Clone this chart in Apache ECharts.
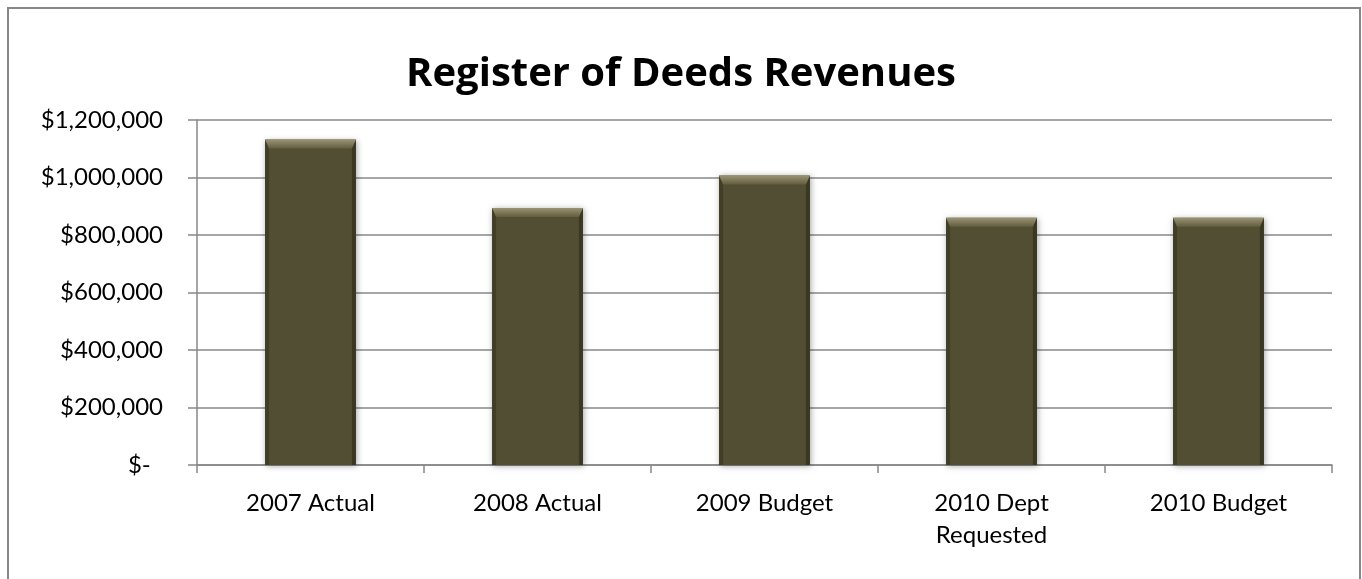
<!DOCTYPE html>
<html>
<head>
<meta charset="utf-8">
<script src="https://cdn.jsdelivr.net/npm/echarts@6/dist/echarts.min.js"></script>
<style>
html,body{margin:0;padding:0;background:#fff;}
#chart{width:1362px;height:579px;}
</style>
</head>
<body>
<div id="chart"></div>
<script>
const titleText = 'Register of Deeds Revenues';
const categories = ['2007 Actual', '2008 Actual', '2009 Budget', '2010 Dept\nRequested', '2010 Budget'];
const revenues = [1132000, 894000, 1007000, 860000, 860000];
const yMin = 0, yMax = 1200000, yStep = 200000;

const seriesData = revenues.map((v, i) => [i, v]);

function renderBevelBar(params, api) {
  const idx = api.value(0);
  const val = api.value(1);
  const top = api.coord([idx, val]);
  const base = api.coord([idx, 0]);
  const w = api.size([1, 0])[0] * 0.4;
  const x0 = top[0] - w / 2, x1 = top[0] + w / 2;
  const y0 = top[1], y1 = base[1];
  const b = 9;   // bevel depth
  const s = 4;   // side bevel width
  return {
    type: 'group',
    children: [
      { type: 'rect', shape: { x: x0, y: y0, width: w, height: y1 - y0 },
        style: { fill: '#524e33', shadowBlur: 6, shadowColor: 'rgba(0,0,0,0.35)', shadowOffsetX: 1, shadowOffsetY: 1 } },
      { type: 'polygon', shape: { points: [[x0, y0], [x0 + s, y0 + b], [x0 + s, y1], [x0, y1]] },
        style: { fill: '#413e28' } },
      { type: 'polygon', shape: { points: [[x1, y0], [x1 - s, y0 + b], [x1 - s, y1], [x1, y1]] },
        style: { fill: '#3a3723' } },
      { type: 'polygon', shape: { points: [[x0, y0], [x1, y0], [x1 - s, y0 + b], [x0 + s, y0 + b]] },
        style: { fill: { type: 'linear', x: 0, y: 0, x2: 0, y2: 1,
          colorStops: [{ offset: 0, color: '#9a9474' }, { offset: 1, color: '#625d40' }] } } }
    ]
  };
}

const chart = echarts.init(document.getElementById('chart'));
chart.setOption({
  backgroundColor: '#ffffff',
  animation: false,
  graphic: [{
    type: 'rect', z: -10, silent: true,
    shape: { x: 8, y: 8, width: 1352, height: 620 },
    style: { fill: 'none', stroke: '#878787', lineWidth: 2 }
  }],
  title: {
    text: titleText,
    left: 'center',
    top: 50,
    textStyle: { fontFamily: 'Open Sans', fontWeight: 'bold', fontSize: 40, color: '#000' }
  },
  grid: { left: 197, right: 30, top: 120, bottom: 114, containLabel: false },
  xAxis: {
    type: 'category',
    data: categories,
    axisLine: { show: true, lineStyle: { color: '#888', width: 1.5 } },
    axisTick: { show: true, length: 8, alignWithLabel: false, lineStyle: { color: '#888', width: 1.5 } },
    axisLabel: { color: '#000', fontFamily: 'Lato', fontSize: 24, margin: 22, lineHeight: 32, interval: 0 }
  },
  yAxis: {
    type: 'value',
    min: yMin, max: yMax, interval: yStep,
    axisLine: { show: true, lineStyle: { color: '#888', width: 1.5 } },
    axisTick: { show: true, length: 9, inside: false, lineStyle: { color: '#888', width: 1.5 } },
    splitLine: { show: true, lineStyle: { color: '#888', width: 1.5 } },
    axisLabel: {
      color: '#000', fontFamily: 'Lato', fontSize: 24, margin: 34,
      formatter: v => v === 0 ? '$-  ' : '$' + v.toLocaleString('en-US')
    }
  },
  series: [{
    type: 'custom',
    name: 'Revenues',
    renderItem: renderBevelBar,
    encode: { x: 0, y: 1 },
    data: seriesData
  }]
});
</script>
</body>
</html>
